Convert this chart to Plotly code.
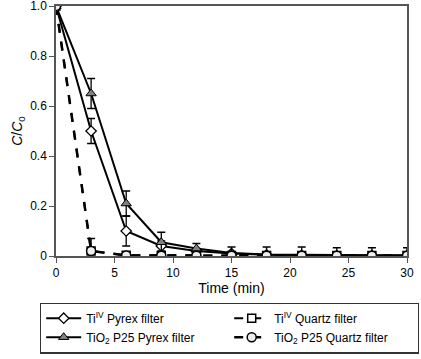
import plotly.graph_objects as go

time_min = [0, 3, 6, 9, 12, 15, 18, 21, 24, 27, 30]
ti_pyrex = [1.0, 0.50, 0.10, 0.04, 0.02, 0.01, 0.005, 0.003, 0.002, 0.002, 0.002]
ti_pyrex_err = [0, 0.05, 0.06, 0.02, 0.01, 0, 0, 0, 0, 0, 0]
tio2_pyrex = [1.0, 0.65, 0.21, 0.055, 0.03, 0.012, 0.006, 0.004, 0.003, 0.003, 0.003]
tio2_pyrex_err = [0, 0.06, 0.05, 0.04, 0.02, 0, 0, 0, 0, 0, 0]
ti_quartz = [1.0, 0.02, 0.003, 0.002, 0.002, 0.002, 0.002, 0.002, 0.002, 0.002, 0.002]
tio2_quartz = [1.0, 0.02, 0.002, 0.001, 0.001, 0.001, 0.001, 0.001, 0.001, 0.001, 0.001]
tio2_quartz_err = [0, 0.05, 0.005, 0.005, 0.005, 0.035, 0.035, 0.035, 0.032, 0.032, 0.032]

y_ticks = [0, 0.2, 0.4, 0.6, 0.8, 1.0]
y_ticktext = ["0", "0.2", "0.4", "0.6", "0.8", "1.0"]
x_ticks = [0, 5, 10, 15, 20, 25, 30]

font = "Liberation Sans, Arial, sans-serif"

def eb(vals):
    return dict(type="data", array=vals, visible=True, color="black", thickness=1.3, width=4)

fig = go.Figure()
fig.add_trace(go.Scatter(
    x=time_min, y=ti_pyrex, name="Ti<sup>IV</sup> Pyrex filter", mode="lines+markers",
    line=dict(color="black", width=2),
    marker=dict(symbol="diamond", size=8, color="white", line=dict(color="black", width=1.3)),
    error_y=eb(ti_pyrex_err)))
fig.add_trace(go.Scatter(
    x=time_min, y=ti_quartz, name="Ti<sup>IV</sup> Quartz filter", mode="lines+markers",
    line=dict(color="black", width=2, dash="dash"),
    marker=dict(symbol="square", size=8, color="white", line=dict(color="black", width=1.5))))
fig.add_trace(go.Scatter(
    x=time_min, y=tio2_pyrex, name="TiO<sub>2</sub> P25 Pyrex filter", mode="lines+markers",
    line=dict(color="black", width=2),
    marker=dict(symbol="triangle-up", size=9, color="#808080", line=dict(color="black", width=1)),
    error_y=eb(tio2_pyrex_err)))
fig.add_trace(go.Scatter(
    x=time_min, y=tio2_quartz, name="TiO<sub>2</sub> P25 Quartz filter", mode="lines+markers",
    line=dict(color="black", width=2.5, dash="dash"),
    marker=dict(symbol="circle", size=9, color="#eeeeee", line=dict(color="black", width=1.5)),
    error_y=eb(tio2_quartz_err)))

fig.update_layout(
    width=421, height=359,
    margin=dict(l=56, r=14, t=6, b=101),
    plot_bgcolor="white", paper_bgcolor="white",
    font=dict(family=font, size=12, color="black"),
    xaxis=dict(range=[0, 30], tickvals=x_ticks, ticks="outside", ticklen=5, tickcolor="#555",
               showline=True, linecolor="#555", linewidth=1.5, mirror=True, showgrid=False,
               zeroline=False, automargin=False, ticklabeloverflow="allow",
               title=dict(text="Time (min)", standoff=4)),
    yaxis=dict(range=[0, 1.0], tickvals=y_ticks, ticktext=y_ticktext, ticks="outside", ticklen=5,
               tickcolor="#555", showline=True, linecolor="#555", linewidth=1.5, mirror=True,
               showgrid=False, zeroline=False, automargin=False, ticklabeloverflow="allow",
               title=dict(text="<i>C</i>/<i>C</i><sub>0</sub>", standoff=4)),
    legend=dict(orientation="h", x=-0.0456, xanchor="left", y=-0.186, yanchor="top",
                entrywidth=138, itemwidth=35, bordercolor="#333", borderwidth=1.2,
                font=dict(size=12), traceorder="normal", tracegroupgap=0),
    showlegend=True,
)

fig.write_html("out.html", config={"displayModeBar": False},
               post_script="document.body.style.margin='0';")
